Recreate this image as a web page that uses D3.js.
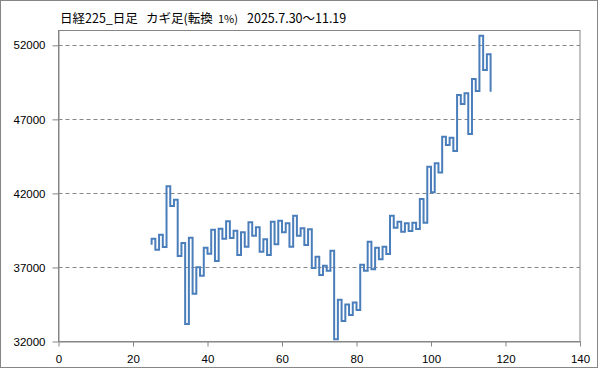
<!DOCTYPE html>
<html>
<head>
<meta charset="utf-8">
<script src="https://cdn.jsdelivr.net/npm/d3@7"></script>
<style>
  body { margin: 0; background: #fff; }
  svg { display: block; }
  .axis text { font-family: "Liberation Sans", Arial, sans-serif; font-size: 11.5px; fill: #000; }
  .axis path, .axis line { stroke: #868686; }
</style>
</head>
<body>
<script>
// kagi chart: first vertical at index 25, one reversal value per vertical
var firstIndex = 25;
var startValue = 38540;
var kagiValues = [
  38940, 38200, 39210, 38380, 42480, 41150, 41570, 37770, 38650, 33180,
  39010, 35230, 37010, 36440, 38330, 37930, 39550, 37440, 39620, 38940,
  40120, 38990, 39480, 37840, 39370, 38400, 40050, 39140, 39710, 38060,
  38900, 37840, 40090, 38560, 40160, 39370, 39980, 38400, 40490, 39140,
  39640, 38520, 39580, 36960, 37730, 36490, 37110, 36780, 38130, 32160,
  34820, 33390, 34490, 33790, 34630, 34130, 37190, 36780, 38740, 36880,
  38330, 37550, 38400, 37910, 40490, 39680, 40090, 39410, 39980, 39460,
  40020, 39600, 41620, 40020, 43800, 42070, 44030, 43420, 45830, 45270,
  45760, 44860, 48640, 48040, 48760, 46010, 49720, 48910, 52650, 50330,
  51390, 48870
];
var xTicks = [0, 20, 40, 60, 80, 100, 120, 140];
var yTicks = [32000, 37000, 42000, 47000, 52000];

var W = 599, H = 369;
var margin = {top: 30.5, right: 19, bottom: 27.5, left: 58.5},
    width = W - margin.left - margin.right,
    height = H - margin.top - margin.bottom;

var svg = d3.select('body').append('svg')
  .attr('width', W)
  .attr('height', H);

// chart area border
svg.append('rect')
  .attr('x', 0.5).attr('y', 0.5)
  .attr('width', W - 2).attr('height', H - 2)
  .attr('fill', '#fff')
  .attr('stroke', '#868686');

var title = svg.append('text')
  .attr('y', 22.5)
  .style('font-family', '"Noto Sans CJK JP", sans-serif')
  .style('font-size', '12.5px')
  .attr('fill', '#000');
title.append('tspan').attr('x', 60).text('日経225_日足');
title.append('tspan').attr('x', 146).text('カギ足(転換');
title.append('tspan').attr('x', 218).style('font-size', '11px').text('1%)');
title.append('tspan').attr('x', 247).text('2025.7.30～11.19');

var g = svg.append('g')
  .attr('transform', 'translate(' + margin.left + ',' + margin.top + ')');

var x = d3.scaleLinear().domain([0, 140]).range([0, width]);
var y = d3.scaleLinear().domain([32000, 53000]).range([height, 0]);

// plot area border (top / right)
g.append('rect')
  .attr('width', width)
  .attr('height', height)
  .attr('fill', 'none')
  .attr('stroke', '#868686');

// gridlines
g.selectAll('.grid')
  .data(yTicks.slice(1))
  .enter()
  .append('line')
  .attr('class', 'grid')
  .attr('x1', 0).attr('x2', width)
  .attr('y1', function(d) { return Math.round(y(d)); })
  .attr('y2', function(d) { return Math.round(y(d)); })
  .attr('stroke', '#868686')
  .attr('stroke-dasharray', '4,3');

g.append('g')
  .attr('class', 'axis')
  .call(d3.axisLeft(y).tickValues(yTicks).tickSize(6).tickSizeOuter(0)
    .tickPadding(7).tickFormat(d3.format('d')));

g.append('g')
  .attr('class', 'axis')
  .attr('transform', 'translate(0,' + height + ')')
  .call(d3.axisBottom(x).tickValues(xTicks).tickSize(5).tickSizeOuter(0)
    .tickPadding(8).tickFormat(d3.format('d')));

// build kagi points: vertical at each index, horizontal shoulder to the next
var pts = [[firstIndex, startValue]];
kagiValues.forEach(function(v, k) {
  pts.push([firstIndex + k, v]);
  if (k < kagiValues.length - 1) pts.push([firstIndex + k + 1, v]);
});

var line = d3.line()
  .x(function(d) { return x(d[0]); })
  .y(function(d) { return y(d[1]); });

g.append('path')
  .datum(pts)
  .attr('fill', 'none')
  .attr('stroke', '#4A7EBB')
  .attr('stroke-width', 2)
  .attr('stroke-linejoin', 'miter')
  .attr('d', line);
</script>
</body>
</html>
